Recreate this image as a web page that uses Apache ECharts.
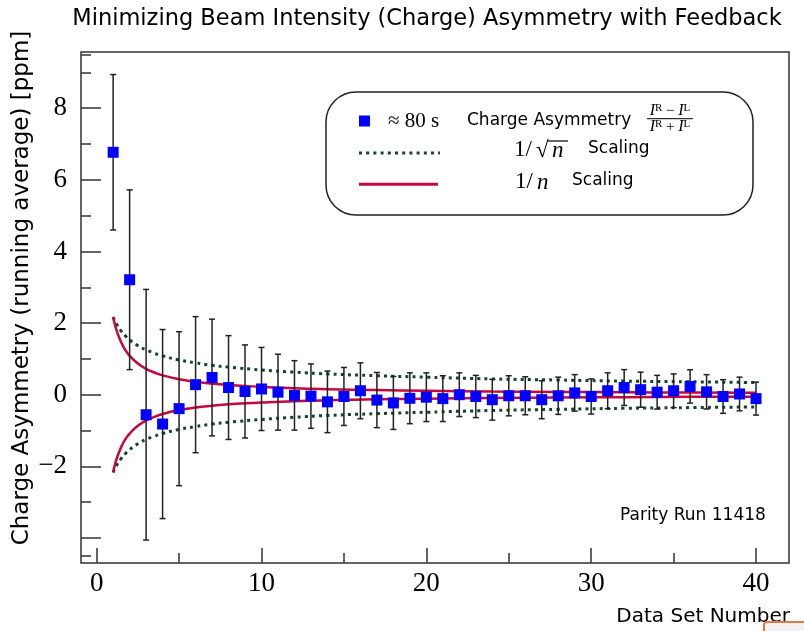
<!DOCTYPE html>
<html>
<head>
<meta charset="utf-8">
<script src="https://cdn.jsdelivr.net/npm/echarts@6/dist/echarts.min.js"></script>
<style>
html,body{margin:0;padding:0;background:#fff;}
#chart{width:804px;height:631px;}
</style>
</head>
<body>
<div id="chart"></div>
<script>
// ---- data ----
const dataSet = [1,2,3,4,5,6,7,8,9,10,11,12,13,14,15,16,17,18,19,20,21,22,23,24,25,26,27,28,29,30,31,32,33,34,35,36,37,38,39,40];
const asymmetry = [6.77,3.21,-0.56,-0.82,-0.39,0.28,0.48,0.20,0.09,0.16,0.07,-0.02,-0.04,-0.20,-0.05,0.11,-0.15,-0.23,-0.10,-0.07,
                   -0.11,0.00,-0.05,-0.14,-0.03,-0.03,-0.14,-0.03,0.05,-0.05,0.11,0.20,0.14,0.07,0.11,0.23,0.08,-0.05,0.02,-0.11];
const asymErr = [2.17,2.51,3.50,2.64,2.15,1.90,1.63,1.45,1.30,1.16,1.06,0.97,0.90,0.86,0.81,0.78,0.77,0.74,0.71,0.68,
                 0.64,0.61,0.59,0.57,0.56,0.53,0.53,0.52,0.51,0.49,0.50,0.50,0.49,0.47,0.47,0.465,0.48,0.47,0.47,0.46];
const curveN = [1,1.1,1.25,1.5,1.75,2,2.5,3,3.5,4,5,6,7,8,10,12,14,17,20,24,28,32,36,40];
const sqrtUpper = [2.17,2.07,1.94,1.77,1.64,1.53,1.37,1.25,1.16,1.085,0.97,0.89,0.82,0.77,0.69,0.63,0.58,0.53,0.49,0.44,0.41,0.38,0.36,0.34];
const sqrtLower = [-2.17,-2.07,-1.94,-1.77,-1.64,-1.53,-1.37,-1.25,-1.16,-1.085,-0.97,-0.89,-0.82,-0.77,-0.69,-0.63,-0.58,-0.53,-0.49,-0.44,-0.41,-0.38,-0.36,-0.34];
const invUpper = [2.17,1.97,1.74,1.45,1.24,1.085,0.87,0.72,0.62,0.54,0.43,0.36,0.31,0.27,0.22,0.18,0.155,0.13,0.11,0.09,0.078,0.068,0.06,0.054];
const invLower = [-2.17,-1.97,-1.74,-1.45,-1.24,-1.085,-0.87,-0.72,-0.62,-0.54,-0.43,-0.36,-0.31,-0.27,-0.22,-0.18,-0.155,-0.13,-0.11,-0.09,-0.078,-0.068,-0.06,-0.054];
const xMajorTicks = [0,10,20,30,40];
const xMinorTicks = [5,15,25,35];
const yMajorTicks = [-4,-2,0,2,4,6,8];
const yLabelTicks = [-2,0,2,4,6,8];
const yMinorTicks = [-4.5,-3,-1,1,3,5,7,9,9.5];

const RED = '#c8063c';
const GREEN = '#12452a';
const AXIS = '#333';
const SERIF = 'Liberation Serif';
const SANS = 'DejaVu Sans';

const chart = echarts.init(document.getElementById('chart'), null, {renderer:'canvas'});

function pairs(xs, ys){ return xs.map((x,i)=>[x, ys[i]]); }

const labelStyle = {fontFamily: SERIF, fontSize: 27, color: '#000'};
const noLine = {show:false, onZero:false};

const fracRich = {i:{fontFamily:SERIF, fontStyle:'italic', fontSize:16, fill:'#000'},
                  s:{fontFamily:SERIF, fontSize:11, fill:'#000', verticalAlign:'top'},
                  o:{fontFamily:SERIF, fontSize:15, fill:'#000'}};

const option = {
  animation: false,
  backgroundColor: '#fff',
  title: {
    text: 'Minimizing Beam Intensity (Charge) Asymmetry with Feedback',
    left: 422, top: 3, textAlign: 'center',
    textStyle: {fontFamily: SANS, fontSize: 22.5, fontWeight: 'normal', color: '#000'}
  },
  grid: {left: 81, right: 15, top: 52, bottom: 68, show: true, borderColor: AXIS, borderWidth: 1.5, backgroundColor: 'transparent'},
  xAxis: [
    {type:'value', min:-0.95, max:42, position:'bottom',
     axisLine:noLine, splitLine:{show:false},
     axisTick:{show:true, inside:true, length:15, customValues:xMajorTicks, lineStyle:{color:AXIS, width:1.5}},
     axisLabel:{show:true, customValues:xMajorTicks, margin:7, ...labelStyle}},
    {type:'value', min:-0.95, max:42, position:'bottom',
     axisLine:noLine, splitLine:{show:false},
     axisTick:{show:true, inside:true, length:10, customValues:xMinorTicks, lineStyle:{color:AXIS, width:1.5}},
     axisLabel:{show:false}}
  ],
  yAxis: [
    {type:'value', min:-4.7, max:9.57, position:'left',
     axisLine:noLine, splitLine:{show:false},
     axisTick:{show:true, inside:true, length:20, customValues:yMajorTicks, lineStyle:{color:AXIS, width:1.5}},
     axisLabel:{show:true, customValues:yLabelTicks, margin:14, ...labelStyle,
       formatter: v => (v < 0 ? '\u2212' + Math.abs(v) : String(v))}},
    {type:'value', min:-4.7, max:9.57, position:'left',
     axisLine:noLine, splitLine:{show:false},
     axisTick:{show:true, inside:true, length:10, customValues:yMinorTicks, lineStyle:{color:AXIS, width:1.5}},
     axisLabel:{show:false}}
  ],
  series: [
    {type:'line', data:pairs(curveN, sqrtUpper), smooth:true, showSymbol:false, symbol:'none', z:2,
     lineStyle:{color:GREEN, width:3, type:[3,4.2]}},
    {type:'line', data:pairs(curveN, sqrtLower), smooth:true, showSymbol:false, symbol:'none', z:2,
     lineStyle:{color:GREEN, width:3, type:[3,4.2]}},
    {type:'line', data:pairs(curveN, invUpper), smooth:true, showSymbol:false, symbol:'none', z:2,
     lineStyle:{color:RED, width:2.5}},
    {type:'line', data:pairs(curveN, invLower), smooth:true, showSymbol:false, symbol:'none', z:2,
     lineStyle:{color:RED, width:2.5}},
    {type:'custom', z:3,
     data: dataSet.map((n,i)=>[n, asymmetry[i], asymErr[i]]),
     encode:{x:0, y:1},
     renderItem: function(params, api){
       const x = api.value(0), y = api.value(1), e = api.value(2);
       const t = api.coord([x, y+e]);
       const b = api.coord([x, y-e]);
       const hw = 3;
       const st = {stroke:'#222', lineWidth:1.5};
       return {type:'group', children:[
         {type:'line', shape:{x1:t[0], y1:t[1], x2:b[0], y2:b[1]}, style:st},
         {type:'line', shape:{x1:t[0]-hw, y1:t[1], x2:t[0]+hw, y2:t[1]}, style:st},
         {type:'line', shape:{x1:b[0]-hw, y1:b[1], x2:b[0]+hw, y2:b[1]}, style:st}
       ]};
     }},
    {type:'scatter', data:pairs(dataSet, asymmetry), symbol:'rect', symbolSize:11, z:4,
     itemStyle:{color:'#0000ff', opacity:1}}
  ],
  graphic: [
    // axis titles
    {type:'text', x:22, y:288, rotation:Math.PI/2,
     style:{text:'Charge Asymmetry (running average) [ppm]', fontFamily:SANS, fontSize:23, fill:'#000',
            textAlign:'center', textVerticalAlign:'middle'}},
    {type:'text', x:790, y:617,
     style:{text:'Data Set Number', fontFamily:SANS, fontSize:20, fill:'#000', textAlign:'right', textVerticalAlign:'middle'}},
    {type:'text', x:620, y:516,
     style:{text:'Parity Run 11418', fontFamily:SANS, fontSize:17, fill:'#000', textAlign:'left', textVerticalAlign:'middle'}},
    // legend box
    {type:'rect', shape:{x:326, y:92, width:427, height:123, r:30}, z:10,
     style:{fill:'#fff', stroke:'#222', lineWidth:1.5}},
    {type:'rect', shape:{x:359, y:115.5, width:11, height:11}, z:11, style:{fill:'#0000ff'}},
    {type:'text', x:388, y:121, z:11,
     style:{text:'\u2248 80 s', fontFamily:SERIF, fontSize:21, fill:'#000', textVerticalAlign:'middle'}},
    {type:'text', x:467, y:121, z:11,
     style:{text:'Charge Asymmetry', fontFamily:SANS, fontSize:17, fill:'#000', textVerticalAlign:'middle'}},
    {type:'text', x:670, y:111, z:11,
     style:{text:'{i|I}{s|R}{o| \u2212 }{i|I}{s|L}', textAlign:'center', textVerticalAlign:'middle', rich:fracRich}},
    {type:'line', z:11, shape:{x1:647, y1:118.7, x2:693, y2:118.7}, style:{stroke:'#000', lineWidth:1}},
    {type:'text', x:670, y:127, z:11,
     style:{text:'{i|I}{s|R}{o| + }{i|I}{s|L}', textAlign:'center', textVerticalAlign:'middle', rich:fracRich}},
    // row 2
    {type:'line', z:11, shape:{x1:359, y1:153, x2:440, y2:153}, style:{stroke:GREEN, lineWidth:3, lineDash:[3,4.2]}},
    {type:'text', x:514, y:150, z:11,
     style:{text:'1/', fontFamily:SERIF, fontSize:23, fill:'#000', textVerticalAlign:'middle'}},
    {type:'text', x:536, y:151, z:11,
     style:{text:'\u221A', fontFamily:SERIF, fontSize:23, fill:'#000', textVerticalAlign:'middle'}},
    {type:'line', z:11, shape:{x1:548, y1:141, x2:568, y2:141}, style:{stroke:'#000', lineWidth:1.2}},
    {type:'text', x:552, y:151, z:11,
     style:{text:'n', fontFamily:SERIF, fontStyle:'italic', fontSize:23, fill:'#000', textVerticalAlign:'middle'}},
    {type:'text', x:588, y:149, z:11,
     style:{text:'Scaling', fontFamily:SANS, fontSize:17, fill:'#000', textVerticalAlign:'middle'}},
    // row 3
    {type:'line', z:11, shape:{x1:359, y1:184.3, x2:438, y2:184.3}, style:{stroke:RED, lineWidth:3}},
    {type:'text', x:515, y:182, z:11,
     style:{text:'1/', fontFamily:SERIF, fontSize:23, fill:'#000', textVerticalAlign:'middle'}},
    {type:'text', x:537, y:183, z:11,
     style:{text:'n', fontFamily:SERIF, fontStyle:'italic', fontSize:23, fill:'#000', textVerticalAlign:'middle'}},
    {type:'text', x:572, y:181, z:11,
     style:{text:'Scaling', fontFamily:SANS, fontSize:17, fill:'#000', textVerticalAlign:'middle'}},
    // small UI artefact bottom-right
    {type:'rect', shape:{x:764, y:622, width:50, height:20, r:3}, style:{fill:'#f2f2f2', stroke:'#e07a44', lineWidth:2}}
  ]
};
chart.setOption(option);
</script>
</body>
</html>
